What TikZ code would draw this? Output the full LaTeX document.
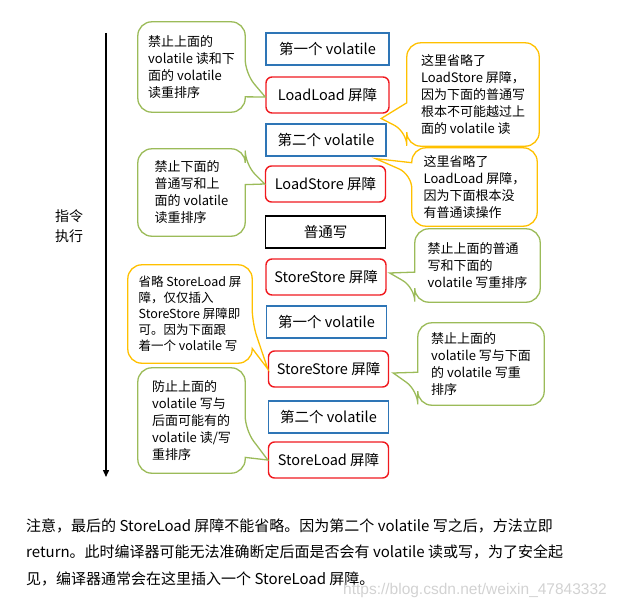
\documentclass[tikz,border=0pt]{standalone}
\usepackage{fontspec}
\setmainfont{Noto Sans CJK SC}
\newfontfamily\wmfont{Liberation Sans}
\usetikzlibrary{positioning,calc,arrows.meta}

\definecolor{boxblue}{RGB}{46,117,182}
\definecolor{boxred}{RGB}{240,25,30}
\definecolor{notegreen}{RGB}{155,187,89}
\definecolor{noteyellow}{RGB}{255,192,0}

% callout outline, pointer on the east / west side
% #1 node, #2 #3 pointer base (fractions of the side), #4 tip, #5 style
\newcommand\noteE[5]{%
  \draw[#5] (#1.north) [rounded corners=14pt] -- (#1.north east)
    -- ($(#1.north east)!#2!(#1.south east)$) [sharp corners] -- (#4)
    -- ($(#1.north east)!#3!(#1.south east)$) [rounded corners=14pt]
    -- (#1.south east) -- (#1.south west) -- (#1.north west) -- cycle;}
\newcommand\noteW[5]{%
  \draw[#5] (#1.north) [rounded corners=14pt] -- (#1.north east)
    -- (#1.south east) -- (#1.south west)
    -- ($(#1.north west)!#3!(#1.south west)$) [sharp corners] -- (#4)
    -- ($(#1.north west)!#2!(#1.south west)$) [rounded corners=14pt]
    -- (#1.north west) -- cycle;}

\begin{document}
\begin{tikzpicture}[
x=1pt, y=-1pt,
vbox/.style={draw=boxblue, line width=1.4pt, minimum width=120pt, minimum height=32pt, inner sep=0pt, font=\fontsize{14.5}{16}\selectfont},
barrier/.style={vbox, draw=boxred, rounded corners=6pt, minimum height=36pt},
plainbox/.style={vbox, draw=black},
note/.style={align=left, inner sep=0pt, font=\fontsize{13}{17}\selectfont},
gline/.style={draw=notegreen, line width=1.3pt},
yline/.style={draw=noteyellow, line width=1.3pt},
axis/.style={-{Triangle[length=7pt,width=6pt]}, line width=1.4pt}
]
\useasboundingbox (0,0) rectangle (620,610);

% time axis
\coordinate (t0) at (106,33);
\coordinate (t1) at (106,477);
\draw[axis] (t0) -- (t1);
\node[align=center, font=\fontsize{14}{20}\selectfont] (exec) at (69,226) {指令\\执行};

% instruction column
\node[vbox, minimum width=123pt] (v1) at (327.5,49) {第一个 volatile};
\node[barrier, minimum width=123pt] (ll) at (327.5,95) {LoadLoad 屏障};
\node[vbox] (v2) at (326,140) {第二个 volatile};
\node[barrier] (ls) at (325.5,184) {LoadStore 屏障};
\node[plainbox] (nw) at (325.5,232) {普通写};
\node[barrier] (ss1) at (326,277) {StoreStore 屏障};
\node[vbox] (v3) at (326.5,322) {第一个 volatile};
\node[barrier] (ss2) at (328.5,369) {StoreStore 屏障};
\node[vbox] (v4) at (328.5,417) {第二个 volatile};
\node[barrier] (sl) at (328.5,460) {StoreLoad 屏障};

% notes
\node[note, minimum width=107pt, minimum height=90pt] (n1) at (191.5,67)
  {禁止上面的\\volatile 读和下\\面的 volatile\\读重排序};
\node[note, minimum width=107pt, minimum height=87pt] (n2) at (191.5,192.5)
  {禁止下面的\\普通写和上\\面的 volatile\\读重排序};
\node[note, minimum width=132pt, minimum height=103pt] (n3) at (473,94.5)
  {这里省略了\\LoadStore 屏障，\\因为下面的普通写\\根本不可能越过上\\面的 volatile 读};
\node[note, minimum width=125pt, minimum height=78pt] (n4) at (474.5,187)
  {这里省略了\\LoadLoad 屏障，\\因为下面根本没\\有普通读操作};
\node[note, minimum width=125pt, minimum height=73pt] (n5) at (477.5,265.5)
  {禁止上面的普通\\写和下面的\\volatile 写重排序};
\node[note, minimum width=126pt, minimum height=82pt] (n6) at (481,364)
  {禁止上面的\\volatile 写与下面\\的 volatile 写重\\排序};
\node[note, minimum width=124pt, minimum height=98pt, font=\fontsize{12.5}{16}\selectfont] (n7) at (190,314)
  {省略 StoreLoad 屏\\障，仅仅插入\\StoreStore 屏障即\\可。因为下面跟\\着一个 volatile 写};
\node[note, minimum width=107pt, minimum height=105pt] (n8) at (191.5,420.5)
  {防止上面的\\volatile 写与\\后面可能有的\\volatile 读/写\\重排序};

\noteE{n1}{.57}{.83}{[yshift=-2pt]ll.west}{gline}
\noteE{n2}{.18}{.41}{ls.west}{gline}
\noteW{n3}{.58}{.86}{$(ll.south east)!.5!(v2.north east)+(-7,0)$}{yline}
\noteW{n4}{.19}{.34}{$(v2.south east)+(-11,2)$}{yline}
\noteW{n5}{.59}{.80}{$(ss1.east)+(3,-4)$}{gline}
\noteW{n6}{.60}{.82}{$(ss2.east)+(4,4)$}{gline}
\noteE{n7}{.59}{.85}{ss2.west}{yline}
\noteE{n8}{.59}{.85}{sl.west}{gline}

% remark below
\node[anchor=west, align=left, inner sep=0pt, font=\fontsize{15}{26.5}\selectfont] (remark) at (26,552)
  {注意，最后的 StoreLoad 屏障不能省略。因为第二个 volatile 写之后，方法立即\\
   return。此时编译器可能无法准确断定后面是否会有 volatile 读或写，为了安全起\\
   见，编译器通常会在这里插入一个 StoreLoad 屏障。};
\node[text=gray!35, font=\wmfont\fontsize{15.5}{18}\selectfont] (mark) at (475,590) {https://blog.csdn.net/weixin\_47843332};
\end{tikzpicture}
\end{document}
